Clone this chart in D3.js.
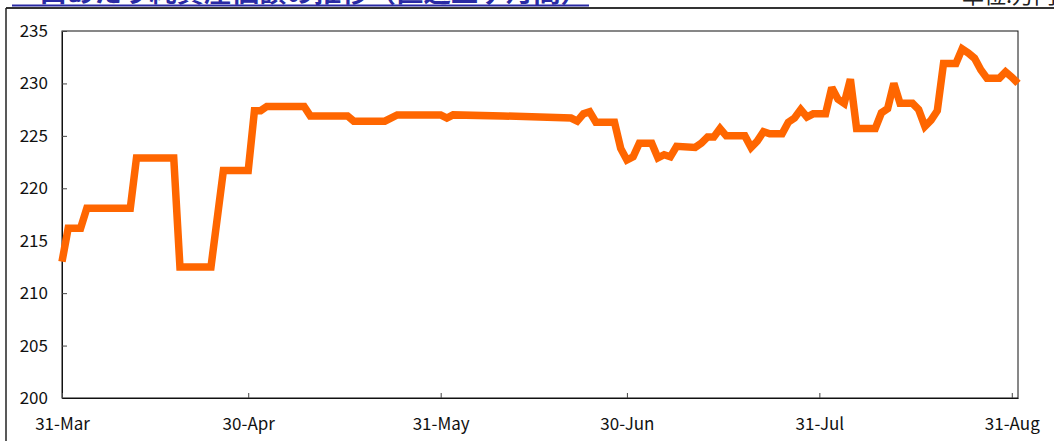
<!DOCTYPE html>
<html>
<head>
<meta charset="utf-8">
<script src="https://cdn.jsdelivr.net/npm/d3@7"></script>
<style>
  html, body { margin: 0; padding: 0; background: #fff; overflow: hidden; }
  svg { display: block; }
</style>
</head>
<body>
<div id="chart"></div>
<script>
// dates (month-day, one year) and net asset value per unit
const dates = ["03-31","04-01","04-03","04-04","04-11","04-12","04-18","04-19","04-24","04-26",
  "04-30","05-01","05-02","05-03","05-09","05-10","05-16","05-17","05-22","05-24",
  "05-31","06-01","06-02","06-10","06-21","06-22","06-23","06-24","06-25","06-28",
  "06-29","06-30","07-01","07-02","07-04","07-05","07-06","07-07","07-08","07-11",
  "07-12","07-13","07-14","07-15","07-16","07-19","07-20","07-21","07-22","07-23",
  "07-25","07-26","07-27","07-28","07-29","07-30","08-01","08-02","08-03","08-04",
  "08-05","08-06","08-09","08-10","08-11","08-12","08-13","08-15","08-16","08-17",
  "08-18","08-19","08-20","08-22","08-23","08-24","08-25","08-26","08-27","08-29",
  "08-30","08-31","09-01"];
const values = [213.0,216.2,216.2,218.1,218.1,222.9,222.9,212.5,212.5,221.7,
  221.7,227.4,227.4,227.8,227.8,226.9,226.9,226.4,226.4,227.0,
  227.0,226.7,227.0,226.9,226.7,226.4,227.1,227.3,226.3,226.3,
  223.8,222.7,223.0,224.3,224.3,222.9,223.2,223.0,224.0,223.9,
  224.3,224.9,224.9,225.7,225.0,225.0,223.9,224.5,225.4,225.2,
  225.2,226.3,226.7,227.5,226.8,227.1,227.1,229.6,228.5,228.1,
  230.4,225.7,225.7,227.2,227.6,230.0,228.1,228.1,227.5,225.9,
  226.5,227.4,231.9,231.9,233.3,232.9,232.4,231.3,230.5,230.5,
  231.1,230.6,230.0];
const yTicks = [200, 205, 210, 215, 220, 225, 230, 235];
const xTickDates = ["03-31","04-30","05-31","06-30","07-31","08-31"];
const xTickLabels = ["31-Mar","30-Apr","31-May","30-Jun","31-Jul","31-Aug"];

const title = "一口あたり純資産価額の推移（直近五ヶ月間）";
const unitLabel = "単位:万円";

const width = 1054, height = 441;
const margin = { top: 31, right: 36, bottom: 43, left: 62 };
const plotW = width - margin.left - margin.right;
const plotH = height - margin.top - margin.bottom;

const parse = d3.timeParse("%Y-%m-%d");
const toDate = md => parse("2010-" + md);
const data = dates.map((d, i) => ({ date: toDate(d), value: values[i] }));

const svg = d3.select("#chart").append("svg")
  .attr("width", width)
  .attr("height", height);

// outer frame (top and left edges visible)
svg.append("line")
  .attr("x1", 6).attr("x2", width).attr("y1", 8).attr("y2", 8)
  .attr("stroke", "#333").attr("stroke-width", 2);
svg.append("line")
  .attr("x1", 6).attr("x2", 6).attr("y1", 8).attr("y2", height)
  .attr("stroke", "#222").attr("stroke-width", 1.5);

// title, cut off at the top of the page
svg.append("text")
  .attr("x", 12).attr("y", 2)
  .attr("textLength", 576)
  .attr("lengthAdjust", "spacingAndGlyphs")
  .style("font-family", "'Noto Sans CJK JP', sans-serif")
  .style("font-size", "26px")
  .style("font-weight", "bold")
  .attr("fill", "#2a2aa4")
  .text(title);
svg.append("line")
  .attr("x1", 12).attr("x2", 589).attr("y1", 5.5).attr("y2", 5.5)
  .attr("stroke", "#2a2aa4").attr("stroke-width", 2);

svg.append("text")
  .attr("x", 962).attr("y", 3)
  .style("font-family", "'Noto Sans CJK JP', sans-serif")
  .style("font-size", "22px")
  .attr("fill", "#222")
  .text(unitLabel);

const g = svg.append("g")
  .attr("transform", `translate(${margin.left},${margin.top})`);

const x = d3.scaleTime()
  .domain([toDate("03-31"), toDate("09-01")])
  .range([0, plotW]);
const y = d3.scaleLinear()
  .domain([200, 235])
  .range([plotH, 0]);

// plot border
g.append("rect")
  .attr("width", plotW).attr("height", plotH)
  .attr("fill", "none").attr("stroke", "#111").attr("stroke-width", 1);

const tickFont = "'Noto Sans CJK JP', sans-serif";

const yAxis = g.append("g")
  .call(d3.axisLeft(y).tickValues(yTicks).tickSizeInner(-5).tickSizeOuter(0).tickPadding(14));
yAxis.select(".domain").attr("stroke", "#111");
yAxis.selectAll(".tick line").attr("stroke", "#444");
yAxis.selectAll(".tick text")
  .style("font-family", tickFont).style("font-size", "17px").attr("fill", "#111");

const xAxis = g.append("g")
  .attr("transform", `translate(0,${plotH})`)
  .call(d3.axisBottom(x)
    .tickValues(xTickDates.map(toDate))
    .tickFormat((d, i) => xTickLabels[i])
    .tickSizeInner(-5).tickSizeOuter(0).tickPadding(20));
xAxis.select(".domain").attr("stroke", "#111");
xAxis.selectAll(".tick line").attr("stroke", "#444");
xAxis.selectAll(".tick text")
  .style("font-family", tickFont).style("font-size", "17px").attr("fill", "#111");

// NAV line
const line = d3.line()
  .x(d => x(d.date))
  .y(d => y(d.value));

g.append("path")
  .datum(data)
  .attr("d", line)
  .attr("fill", "none")
  .attr("stroke", "#ff6600")
  .attr("stroke-width", 7.5)
  .attr("stroke-linejoin", "miter")
  .attr("stroke-miterlimit", 2);
</script>
</body>
</html>
